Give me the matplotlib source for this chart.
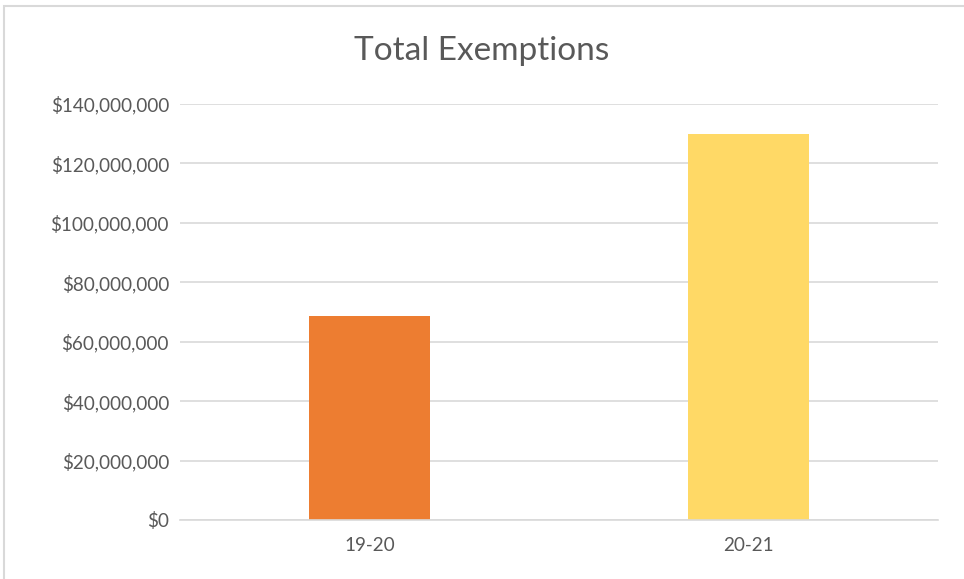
import matplotlib.pyplot as plt
from matplotlib.patches import Rectangle
from matplotlib.ticker import FuncFormatter

plt.rcParams['font.family'] = ['Lato', 'DejaVu Sans']

years = ["19-20", "20-21"]
exemptions = [68700000, 130000000]
colors = ["#ED7D31", "#FFD966"]
yticks = [0, 20000000, 40000000, 60000000, 80000000, 100000000, 120000000, 140000000]

fig = plt.figure(figsize=(9.64, 5.79), dpi=100)
ax = fig.add_axes([0.1867, 0.1019, 0.7863, 0.7185])

x = range(len(years))
ax.bar(x, exemptions, width=0.317, color=colors, zorder=2)

ax.set_xlim(-0.5, 1.5)
ax.set_ylim(0, 140000000)
ax.set_yticks(yticks)
ax.yaxis.set_major_formatter(FuncFormatter(lambda v, p: "${:,.0f}".format(v)))
ax.set_xticks(list(x))
ax.set_xticklabels(years)
ax.grid(axis="y", color="#d9d9d9", linewidth=1.2, zorder=0)
for s in ["top", "right", "left"]:
    ax.spines[s].set_visible(False)
ax.spines["bottom"].set_color("#d9d9d9")
ax.spines["bottom"].set_linewidth(1.2)
ax.tick_params(axis="both", length=0, colors="#595959", labelsize=13.6)
ax.tick_params(axis="y", pad=8)
ax.tick_params(axis="x", pad=12)

fig.text(0.5, 0.912, "Total Exemptions", ha="center", va="center", fontsize=24, color="#595959")

fig.patches.append(Rectangle((4 / 964, -0.1), 1.2, 1 - 6 / 579 + 0.1, transform=fig.transFigure,
                             fill=False, edgecolor="#d9d9d9", linewidth=1.5))

plt.savefig("out.png", dpi=100)
